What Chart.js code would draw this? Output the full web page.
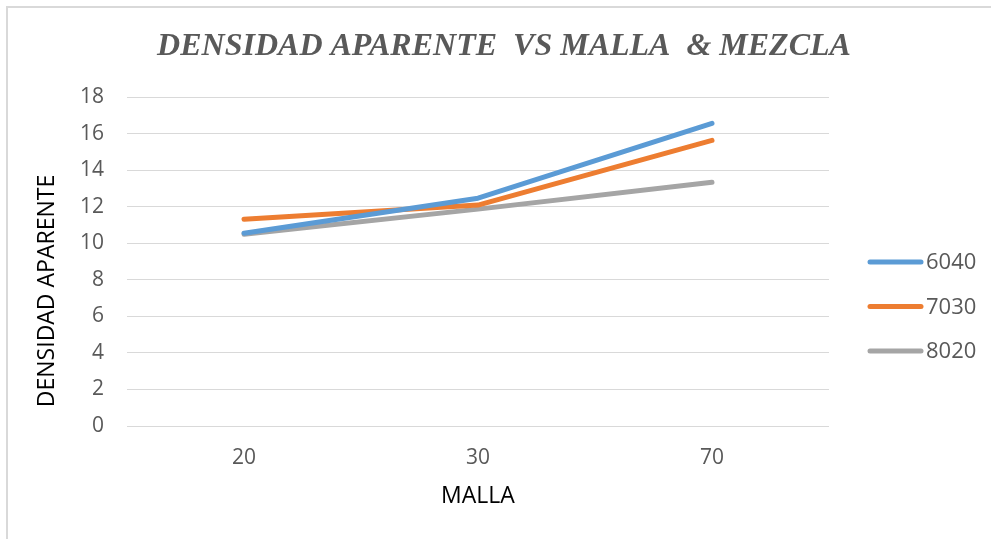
<!DOCTYPE html>
<html>
<head>
<meta charset="utf-8">
<script src="https://cdn.jsdelivr.net/npm/chart.js@4/dist/chart.umd.min.js"></script>
<style>
    html, body { margin: 0; padding: 0; background: #fff; overflow: hidden; }
    #marco { position: absolute; left: 6px; top: 6px; width: 1200px; height: 800px; border: 2px solid #d9d9d9; }
    #contenedor { position: absolute; left: 0; top: 0; width: 991px; height: 539px; }
</style>
</head>
<body>
<div id="marco"></div>
<div id="contenedor"><canvas id="ChartDensidad" width="991" height="539"></canvas></div>
<script>
var mallas = ['20', '30', '70'];
var mezclas = ['6040', '7030', '8020'];
var densidad6040 = [10.56, 12.48, 16.58];
var densidad7030 = [11.32, 12.1, 15.65];
var densidad8020 = [10.5, 11.88, 13.35];
var colores = ['#5B9BD5', '#ED7D31', '#A5A5A5'];

var yMin = 0;
var yMax = 18;
var yPaso = 2;

var textoGris = '#595959';
var lineaGrid = '#d9d9d9';

function serie(i, valores) {
    return {
        label: mezclas[i],
        data: valores,
        borderColor: colores[i],
        backgroundColor: colores[i],
        borderWidth: 5,
        borderCapStyle: 'round',
        borderJoinStyle: 'round',
        pointRadius: 0,
        tension: 0,
        fill: false
    };
}

// titulo vertical del eje y y la leyenda de la derecha
var leyendaLateral = {
    id: 'leyendaLateral',
    afterDraw: function (chart) {
        var ctx = chart.ctx;
        ctx.save();
        ctx.translate(47, 291);
        ctx.rotate(-Math.PI / 2);
        ctx.font = '23px "Open Sans"';
        ctx.fillStyle = '#000';
        ctx.textAlign = 'center';
        ctx.textBaseline = 'middle';
        ctx.fillText('DENSIDAD APARENTE', 0, 0);
        ctx.restore();

        ctx.save();
        ctx.font = '22px "Open Sans"';
        ctx.textAlign = 'left';
        ctx.textBaseline = 'middle';
        chart.data.datasets.forEach(function (ds, i) {
            var y = 262 + i * 44.5;
            ctx.beginPath();
            ctx.lineCap = 'round';
            ctx.lineWidth = 5;
            ctx.strokeStyle = ds.borderColor;
            ctx.moveTo(870, y);
            ctx.lineTo(921, y);
            ctx.stroke();
            ctx.fillStyle = textoGris;
            ctx.fillText(ds.label, 926, y + 1);
        });
        ctx.restore();
    }
};

Chart.defaults.font.family = '"Open Sans", "Liberation Sans", sans-serif';

var ctx = document.getElementById('ChartDensidad').getContext('2d');

var graph = new Chart(ctx, {
    type: 'line',
    data: {
        labels: mallas,
        datasets: [
            serie(0, densidad6040),
            serie(1, densidad7030),
            serie(2, densidad8020)
        ]
    },
    options: {
        responsive: false,
        animation: false,
        layout: { padding: { left: 17, right: 0, top: 0, bottom: 0 } },
        plugins: {
            legend: { display: false },
            tooltip: { enabled: false },
            title: {
                display: true,
                text: 'DENSIDAD APARENTE  VS MALLA  & MEZCLA',
                color: textoGris,
                font: { family: '"Liberation Serif", "Times New Roman", serif', size: 32, style: 'italic', weight: 'bold' },
                padding: { top: 28, bottom: 31 }
            }
        },
        scales: {
            x: {
                offset: true,
                grid: { display: false, drawTicks: false },
                border: { display: false },
                ticks: { color: textoGris, font: { size: 21 }, padding: 19 },
                title: {
                    display: true,
                    text: 'MALLA',
                    color: '#000',
                    font: { size: 23 },
                    padding: { top: 0, bottom: 29 }
                },
                afterFit: function (scale) { scale.height = 113; }
            },
            y: {
                min: yMin,
                max: yMax,
                grid: { color: lineaGrid, lineWidth: 1, drawTicks: false },
                border: { display: false },
                ticks: { stepSize: yPaso, color: textoGris, font: { size: 21 }, padding: 23 },
                afterFit: function (scale) { scale.width = 110; }
            },
            espacio: {
                type: 'linear',
                axis: 'y',
                position: 'right',
                grid: { display: false, drawTicks: false },
                border: { display: false },
                ticks: { display: false },
                afterFit: function (scale) { scale.width = 162; }
            }
        }
    },
    plugins: [leyendaLateral]
});
</script>
</body>
</html>
